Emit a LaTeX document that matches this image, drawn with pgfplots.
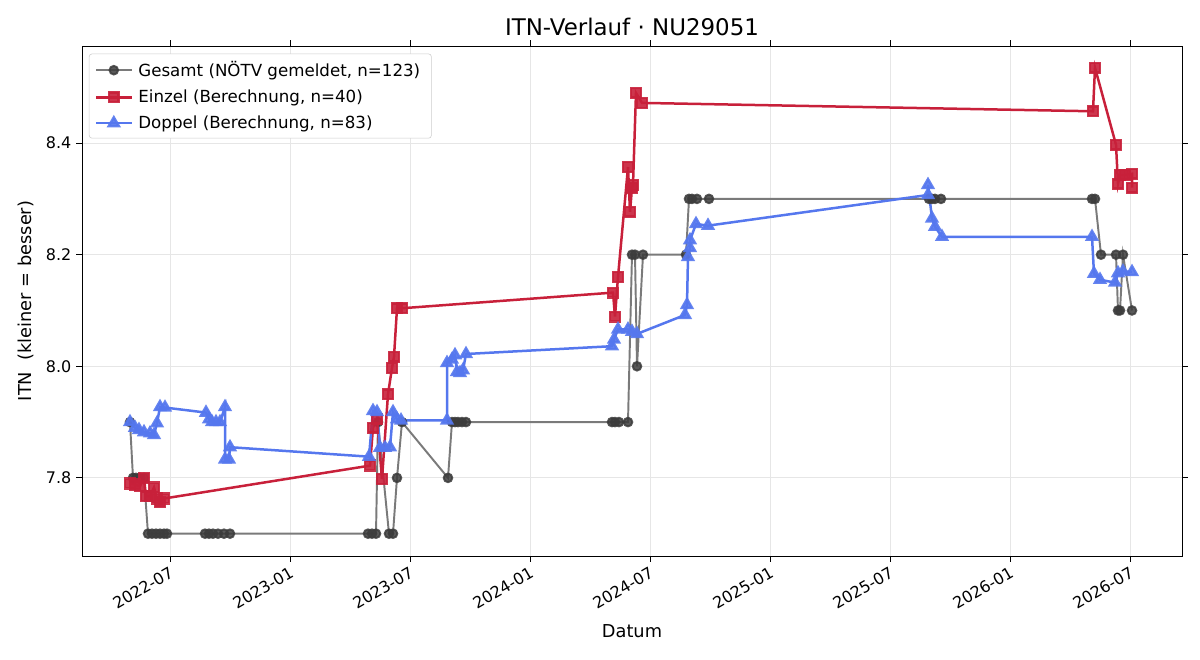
\documentclass[border=0pt]{standalone}
\usepackage{fontspec}
\setmainfont{DejaVu Sans}
\usepackage{pgfplots}
\pgfplotsset{compat=1.18}
\definecolor{grayline}{HTML}{7A7A7A}
\definecolor{graymark}{HTML}{3C3C3C}
\definecolor{einzel}{HTML}{C8203A}
\definecolor{doppel}{HTML}{5577EE}
\definecolor{gridc}{HTML}{E6E6E6}
\begin{document}
\begin{tikzpicture}
\useasboundingbox (-59.04pt,-74.88pt) rectangle (804.96pt,400.32pt);
\begin{axis}[
  scale only axis, width=792pt, height=367.2pt,
  xmin=1.6, xmax=56.6, ymin=7.66, ymax=8.574,
  xtick={6,12,18,24,30,36,42,48,54},
  xticklabels={2022-07,2023-01,2023-07,2024-01,2024-07,2025-01,2025-07,2026-01,2026-07},
  x tick label style={rotate=30, anchor=north east, font=\fontsize{11.5}{13}\selectfont, inner sep=2pt},
  ytick={7.8,8.0,8.2,8.4},
  yticklabel style={/pgf/number format/fixed, /pgf/number format/fixed zerofill, /pgf/number format/precision=1, font=\fontsize{11.5}{13}\selectfont},
  /pgf/number format/assume math mode=true,
  grid=major, grid style={gridc, line width=0.7pt},
  tick align=outside, major tick length=4.2pt,
  tick style={black, line width=0.7pt},
  axis line style={line width=0.7pt},
  title={ITN-Verlauf · NU29051},
  title style={font=\fontsize{16.5}{19}\selectfont, yshift=-2pt},
  xlabel={Datum}, ylabel={ITN\ \ (kleiner = besser)},
  label style={font=\fontsize{12.8}{15}\selectfont},
  xlabel style={yshift=-4pt},
  ylabel style={yshift=2pt},
  legend cell align=left,
  legend style={at={(0,1)}, anchor=north west, xshift=5pt, yshift=-5.5pt,
    font=\fontsize{12}{14}\selectfont, draw=gray!40, rounded corners=2pt,
    row sep=4pt, inner xsep=4pt, inner ysep=3.5pt,
    nodes={inner xsep=4pt}},
  legend image code/.code={
    \draw[mark repeat=2,mark phase=2] plot coordinates {(0cm,0cm) (0.45cm,0cm) (0.9cm,0cm)};},
]
\addplot[grayline, line width=1.4pt, mark=*, mark size=3.1pt,
  mark options={draw=graymark, fill=graymark, fill opacity=0.85, draw opacity=0.85}]
coordinates {
(4.0,7.9) (4.15,7.8) (4.3,7.8) (4.5,7.8) (4.7,7.8)
(4.9,7.7) (5.1,7.7) (5.3,7.7) (5.5,7.7) (5.7,7.7) (5.85,7.7)
(7.75,7.7) (7.95,7.7) (8.15,7.7) (8.4,7.7) (8.7,7.7) (9.0,7.7)
(15.9,7.7) (16.1,7.7) (16.3,7.7) (16.4,7.9) (16.95,7.7) (17.15,7.7) (17.35,7.8) (17.6,7.9)
(19.9,7.8) (20.1,7.9) (20.25,7.9) (20.4,7.9) (20.6,7.9) (20.8,7.9)
(28.1,7.9) (28.25,7.9) (28.45,7.9) (28.9,7.9)
(29.1,8.2) (29.25,8.2) (29.35,8.0) (29.65,8.2)
(31.8,8.2) (31.95,8.3) (32.1,8.3) (32.35,8.3) (32.95,8.3)
(43.95,8.3) (44.1,8.3) (44.25,8.3) (44.55,8.3)
(52.1,8.3) (52.25,8.3) (52.55,8.2) (53.3,8.2) (53.4,8.1) (53.5,8.1) (53.65,8.2) (54.1,8.1)
};
\addlegendentry{Gesamt (NÖTV gemeldet, n=123)}
\addplot[einzel, line width=1.8pt, mark=square*, mark size=3.5pt,
  mark options={fill=einzel, fill opacity=0.9, draw opacity=0.9}]
coordinates {
(4.0,7.79) (4.25,7.788) (4.5,7.785) (4.7,7.8) (4.8,7.767) (5.0,7.767) (5.2,7.783) (5.35,7.763) (5.5,7.757) (5.7,7.763)
(16.0,7.822) (16.15,7.89) (16.35,7.905) (16.6,7.798) (16.9,7.95) (17.1,7.997) (17.2,8.017) (17.35,8.104) (17.6,8.104)
(28.15,8.132) (28.25,8.089) (28.4,8.16) (28.9,8.357) (29.0,8.277) (29.1,8.32) (29.15,8.325) (29.3,8.49) (29.6,8.472)
(52.15,8.457) (52.25,8.535) (53.3,8.397) (53.4,8.327) (53.5,8.343) (53.75,8.343) (54.1,8.345) (54.1,8.32)
};
\addlegendentry{Einzel (Berechnung, n=40)}
\addplot[doppel, line width=1.8pt, mark=triangle*, mark size=4.2pt,
  mark options={fill=doppel, fill opacity=0.9, draw opacity=0.9}]
coordinates {
(4.0,7.9) (4.25,7.89) (4.45,7.886) (4.7,7.882) (5.0,7.88) (5.2,7.877) (5.35,7.898) (5.5,7.927) (5.75,7.926)
(7.8,7.917) (7.95,7.905) (8.1,7.9) (8.3,7.9) (8.5,7.9) (8.75,7.927) (8.75,7.833) (8.95,7.833) (9.0,7.855)
(15.95,7.838) (16.15,7.92) (16.35,7.918) (16.5,7.854) (16.75,7.854) (17.0,7.855) (17.15,7.918) (17.35,7.905) (17.55,7.903)
(19.85,7.903) (19.85,8.006) (20.1,8.012) (20.25,8.02) (20.35,7.99) (20.5,7.988) (20.65,7.993) (20.8,8.022)
(28.1,8.036) (28.2,8.048) (28.4,8.066) (28.9,8.066) (29.1,8.062) (29.35,8.058)
(31.75,8.092) (31.85,8.11) (31.9,8.196) (32.0,8.212) (32.0,8.226) (32.3,8.255) (32.9,8.252)
(43.9,8.307) (43.9,8.325) (44.1,8.265) (44.25,8.25) (44.6,8.232)
(52.1,8.232) (52.2,8.166) (52.5,8.155) (53.25,8.15) (53.4,8.167) (53.65,8.17) (54.1,8.169)
};
\addlegendentry{Doppel (Berechnung, n=83)}
\end{axis}
\end{tikzpicture}
\end{document}
